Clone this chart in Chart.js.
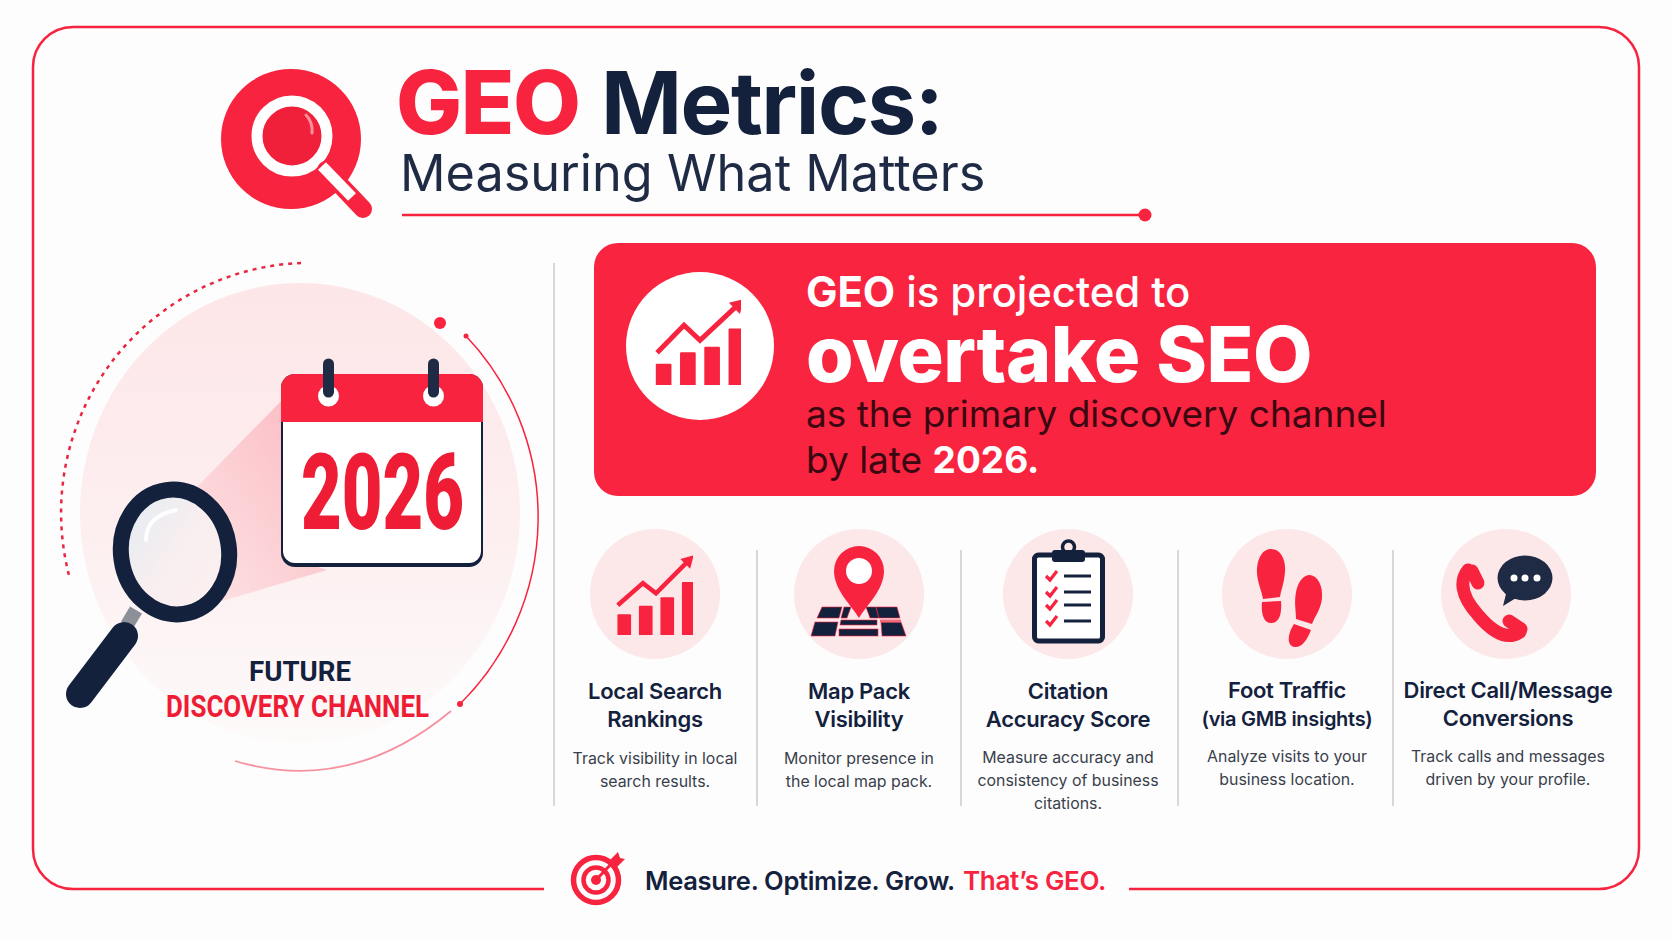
<!DOCTYPE html>
<html>
<head>
<meta charset="utf-8">
<title>GEO Metrics</title>
<script src="https://cdn.jsdelivr.net/npm/chart.js@4"></script>
<style>
	html, body { margin:0; padding:0; background:#fdfdfd; }
	#page { position:relative; width:1672px; height:941px; overflow:hidden; font-family:Inter, "Noto Sans", sans-serif; }
	#page svg { position:absolute; left:0; top:0; }
	#page canvas { position:absolute; }
</style>
</head>
<body>
<div id="page">
	<svg id="art" width="1672" height="941" viewBox="0 0 1672 941"></svg>
	<canvas id="heroTrend" width="97" height="95" style="left:644px;top:290px"></canvas>
	<canvas id="localTrend" width="86" height="85" style="left:607px;top:550px"></canvas>
</div>
<script>
// 아이콘 차트 데이터
const barCategories = ['Q1', 'Q2', 'Q3', 'Q4'];
const heroBars = [22, 34, 40, 59];
const heroTrendX = [0.54, 1.65, 2.31, 3.86];
const heroTrendY = [34, 63, 47, 84];
const localBars = [24, 34, 44, 62];
const localTrendX = [0.5, 1.67, 2.28, 3.77];
const localTrendY = [35, 61, 49, 87];

// 하단 항목 텍스트
const metricCenters = [655, 859, 1068, 1287, 1508];
const circleCenters = [655, 859, 1068, 1287, 1506];
const metricTitles = [
	['Local Search', 'Rankings'],
	['Map Pack', 'Visibility'],
	['Citation', 'Accuracy Score'],
	['Foot Traffic', '(via GMB insights)'],
	['Direct Call/Message', 'Conversions']
];
const metricNotes = [
	['Track visibility in local', 'search results.'],
	['Monitor presence in', 'the local map pack.'],
	['Measure accuracy and', 'consistency of business', 'citations.'],
	['Analyze visits to your', 'business location.'],
	['Track calls and messages', 'driven by your profile.']
];
const dividerXs = [757, 961, 1178, 1393];

const RED = '#f8233f';
const NAVY = '#14213d';

// ------------------- chart.js 아이콘 차트 --------------------------//
function trendChart( id, bars, trendX, trendY, barWidth, lineWidth, arrowSize ){
	return new Chart(document.getElementById(id), {
		data: {
			labels: barCategories,
			datasets: [
				{
					type: 'line',
					data: trendX.map((x, i) => ({ x: x, y: trendY[i] })),
					xAxisID: 'xTrend',
					borderColor: RED,
					backgroundColor: RED,
					borderWidth: lineWidth,
					tension: 0,
					clip: false,
					pointStyle: ['circle', 'circle', 'circle', 'triangle'],
					pointRadius: [0, 0, 0, arrowSize],
					pointRotation: 45,
					pointBorderWidth: 0
				},
				{
					type: 'bar',
					data: bars,
					backgroundColor: RED,
					barThickness: barWidth,
					borderRadius: 1
				}
			]
		},
		options: {
			responsive: false,
			animation: false,
			events: [],
			layout: { padding: 0, autoPadding: false },	// 점 크기만큼 안쪽으로 줄어드는 것 방지
			plugins: { legend: { display: false }, tooltip: { enabled: false } },
			scales: {
				x: { display: false },
				xTrend: { type: 'linear', display: false, min: 0, max: 4 },
				y: { display: false, min: 0, max: 100 }
			}
		}
	});
}
trendChart('heroTrend', heroBars, heroTrendX, heroTrendY, 15, 5, 9);
trendChart('localTrend', localBars, localTrendX, localTrendY, 13, 4.5, 8);

// ------------------- 배경 그림 (svg) --------------------------//
let html = `
<defs>
	<linearGradient id="paleDisc" x1="0" y1="0" x2="0" y2="1">
		<stop offset="0" stop-color="#fde6e8"/><stop offset="0.55" stop-color="#fdeff0"/><stop offset="1" stop-color="#fdfafa"/>
	</linearGradient>
	<linearGradient id="beam" x1="1" y1="0" x2="0" y2="1">
		<stop offset="0" stop-color="#fbb9c0"/><stop offset="1" stop-color="#fde3e5"/>
	</linearGradient>
	<linearGradient id="glass" x1="0" y1="0" x2="1" y2="1">
		<stop offset="0" stop-color="#dfecf4"/><stop offset="0.5" stop-color="#f8eeef"/><stop offset="1" stop-color="#fdf0f0"/>
	</linearGradient>
</defs>

<!-- 바깥 테두리 -->
<path d="M544 889 H73 A40 40 0 0 1 33 849 V67 A40 40 0 0 1 73 27 H1599 A40 40 0 0 1 1639 67 V849 A40 40 0 0 1 1599 889 H1129" fill="none" stroke="${RED}" stroke-width="2.5"/>

<!-- 로고 -->
<circle cx="291" cy="139" r="70" fill="${RED}"/>
<circle cx="292" cy="136" r="30" fill="#f1203a"/>
<circle cx="292" cy="136" r="35" fill="none" stroke="#fff" stroke-width="11"/>
<path d="M306 115 Q313 122 312 133" fill="none" stroke="#fb8f9b" stroke-width="3" stroke-linecap="round"/>
<line x1="326" y1="170" x2="363" y2="209" stroke="${RED}" stroke-width="18" stroke-linecap="round"/>
<line x1="322" y1="166" x2="352" y2="197" stroke="#fff" stroke-width="11"/>

<!-- 제목 -->
<text x="396" y="134" font-size="88" font-weight="800" letter-spacing="-1.5" fill="${RED}">GEO</text>
<text x="601" y="134" font-size="87" font-weight="700" letter-spacing="-1.5" fill="${NAVY}">Metrics:</text>
<text x="400" y="191" font-size="50.4" font-weight="400" fill="#1f2a44">Measuring What Matters</text>
<line x1="402" y1="215" x2="1145" y2="215" stroke="${RED}" stroke-width="2.5"/>
<circle cx="1145" cy="215" r="6.5" fill="${RED}"/>

<!-- 왼쪽 일러스트 -->
<ellipse cx="300" cy="513" rx="220" ry="230" fill="url(#paleDisc)"/>
<path d="M301 263 A250 250 0 0 0 70 579" fill="none" stroke="#e8263f" stroke-width="2.5" stroke-dasharray="4 5"/>
<path d="M466 336 A263 263 0 0 1 460 704" fill="none" stroke="${RED}" stroke-width="1.5"/>
<path d="M235 761 Q350 795 451 711" fill="none" stroke="#f6929f" stroke-width="1.8"/>
<circle cx="440" cy="323" r="6" fill="${RED}"/>
<circle cx="466" cy="336" r="2.5" fill="${RED}"/>
<circle cx="460" cy="704" r="3" fill="${RED}"/>
<polygon points="198,486 281,401 281,555 327,570 222,601" fill="url(#beam)"/>

<!-- 달력 -->
<rect x="281" y="374" width="202" height="193" rx="14" fill="${NAVY}"/>
<rect x="283" y="376" width="198" height="187" rx="12" fill="#fff"/>
<path d="M281 422 V388 A14 14 0 0 1 295 374 H469 A14 14 0 0 1 483 388 V422 Z" fill="${RED}"/>
<circle cx="328.5" cy="396" r="10.5" fill="#fff"/>
<circle cx="433.5" cy="396" r="10.5" fill="#fff"/>
<line x1="328.5" y1="364" x2="328.5" y2="392" stroke="#1f2a44" stroke-width="11" stroke-linecap="round"/>
<line x1="433.5" y1="364" x2="433.5" y2="392" stroke="#1f2a44" stroke-width="11" stroke-linecap="round"/>
<text x="301" y="529" font-family="Roboto" font-size="105" font-weight="900" fill="#ee1c35" textLength="163" lengthAdjust="spacingAndGlyphs">2026</text>

<!-- 돋보기 -->
<line x1="136" y1="610" x2="127" y2="625" stroke="#8c9098" stroke-width="14"/>
<line x1="124" y1="636" x2="80" y2="694" stroke="${NAVY}" stroke-width="28" stroke-linecap="round"/>
<ellipse cx="175" cy="552" rx="54" ry="62.5" transform="rotate(-8 175 552)" fill="url(#glass)" stroke="${NAVY}" stroke-width="16"/>
<path d="M146 540 Q146 516 176 510" fill="none" stroke="#fff" stroke-width="4" stroke-linecap="round" opacity="0.9"/>

<text x="249" y="681" font-family="Roboto" font-size="28" font-weight="700" fill="${NAVY}" textLength="102" lengthAdjust="spacingAndGlyphs">FUTURE</text>
<text x="166" y="717" font-family="Roboto" font-size="32" font-weight="700" fill="#ee1c35" textLength="263" lengthAdjust="spacingAndGlyphs">DISCOVERY CHANNEL</text>
<line x1="554" y1="263" x2="554" y2="806" stroke="#d8d8db" stroke-width="2"/>

<!-- 배너 -->
<rect x="594" y="243" width="1002" height="253" rx="24" fill="#f9243f"/>
<circle cx="700" cy="346" r="74" fill="#fff"/>
<text x="806" y="307" font-size="42" font-weight="500" letter-spacing="-0.1" fill="#fff"><tspan font-weight="700">GEO</tspan> is projected to</text>
<text x="806" y="382" font-size="77" font-weight="800" letter-spacing="-0.5" fill="#fff">overtake SEO</text>
<text x="806" y="427" font-size="37" font-weight="400" fill="#3b0711">as the primary discovery channel</text>
<text x="806" y="473" font-size="37" font-weight="400" fill="#3b0711">by late <tspan font-weight="700" fill="#fff">2026.</tspan></text>
`;

// 항목 원, 구분선
circleCenters.forEach( cx => {
	html += `<circle cx="${cx}" cy="594" r="65" fill="#fce7e9"/>`;
});
dividerXs.forEach( x => {
	html += `<line x1="${x}" y1="550" x2="${x}" y2="806" stroke="#d8d8db" stroke-width="2"/>`;
});

// 항목 텍스트
metricTitles.forEach( (title, i) => {
	let shift = i >= 3 ? -1 : 0;
	title.forEach( (t, j) => {
		let size = t.startsWith('(via') ? 20 : 22;	// 괄호 줄만 작게
		html += `<text x="${metricCenters[i]}" y="${699 + shift + j*28}" text-anchor="middle" font-size="${size}" font-weight="600" letter-spacing="-0.3" fill="${NAVY}">${t}</text>`;
	});
	metricNotes[i].forEach( (t, j) => {
		html += `<text x="${metricCenters[i]}" y="${(i == 2 ? 763 : 764) + (shift*2) + j*23}" text-anchor="middle" font-size="15.9" font-weight="400" fill="#3a3f4c">${t}</text>`;
	});
});

html += `
<!-- 지도 핀 -->
<g fill="${NAVY}" stroke="${RED}" stroke-width="0.6">
	<polygon points="822,607 842,607 839,618 817,618"/>
	<polygon points="844,607 851,607 847,618 841,618"/>
	<polygon points="866,607 876,607 879,618 870,618"/>
	<polygon points="876,607 897,607 900,618 879,618"/>
	<polygon points="815,622 838,622 835,636 811,636"/>
	<polygon points="841,620 877,620 877,625 840,625"/>
	<polygon points="839,629 878,629 878,636 839,636"/>
	<polygon points="881,622 901,622 906,636 882,636"/>
</g>
<line x1="880" y1="621" x2="901" y2="621" stroke="#f56a78" stroke-width="3"/>
<path d="M859 618 C852 606 834 590 834 571 A25 25 0 0 1 884 571 C884 590 866 606 859 618 Z" fill="${RED}"/>
<circle cx="859" cy="571" r="13" fill="#fff"/>

<!-- 체크리스트 -->
<rect x="1034.5" y="555" width="68" height="86" rx="4" fill="#fff" stroke="${NAVY}" stroke-width="5"/>
<circle cx="1068.5" cy="547" r="6" fill="none" stroke="${NAVY}" stroke-width="3.5"/>
<rect x="1052" y="550" width="33" height="12" rx="3" fill="${NAVY}"/>
`;
[576, 592, 605, 621].forEach( y => {
	html += `<path d="M1046 ${y} L1050 ${y+4} L1057 ${y-5}" fill="none" stroke="${RED}" stroke-width="3.2"/>
	<line x1="1064" y1="${y}" x2="1091" y2="${y}" stroke="${NAVY}" stroke-width="3"/>`;
});
html += `
<!-- 발자국 -->
<g fill="${RED}">
	<path d="M1271 549 C1281 549 1286 560 1285 572 C1284 584 1281 590 1280 597 L1263 599 C1262 591 1256 580 1257 568 C1258 557 1263 549 1271 549 Z"/>
	<path d="M1262 602 L1281 601 C1282 612 1280 623 1271 623 C1263 623 1261 612 1262 602 Z"/>
	<path d="M1310 575 C1318 576 1323 586 1322 598 C1321 609 1315 616 1312 624 L1296 619 C1296 610 1294 603 1296 592 C1298 582 1303 575 1310 575 Z"/>
	<path d="M1294 624 L1311 630 C1307 640 1302 648 1294 647 C1286 645 1288 633 1294 624 Z"/>
</g>

<!-- 전화 + 말풍선 -->
<path d="M1468 570 C1460 580 1460 595 1478 615 C1494 634 1508 640 1520 632" fill="none" stroke="${RED}" stroke-width="13" stroke-linecap="round"/>
<line x1="1472" y1="571" x2="1478" y2="583" stroke="${RED}" stroke-width="13" stroke-linecap="round"/>
<line x1="1509" y1="621" x2="1521" y2="629" stroke="${RED}" stroke-width="13" stroke-linecap="round"/>
<ellipse cx="1525" cy="578" rx="27.5" ry="22.5" fill="#1f2a44"/>
<polygon points="1507,590 1516,598 1503,606" fill="#1f2a44"/>
<circle cx="1514" cy="578" r="3.5" fill="#fff"/>
<circle cx="1525" cy="578" r="3.5" fill="#fff"/>
<circle cx="1537" cy="578" r="3.5" fill="#fff"/>

<!-- 하단 문구 -->
<circle cx="596" cy="880" r="22.5" fill="none" stroke="${RED}" stroke-width="5.5"/>
<circle cx="596" cy="880" r="12.5" fill="none" stroke="${RED}" stroke-width="4.5"/>
<circle cx="596" cy="880" r="5" fill="${RED}"/>
<line x1="596" y1="880" x2="614" y2="861" stroke="${RED}" stroke-width="3"/>
<polygon points="610,860 618,852 620,858 625,859 616,868 610,866" fill="${RED}"/>
<text x="645" y="890" font-size="25.5" font-weight="600" letter-spacing="-0.3" fill="${NAVY}">Measure. Optimize. Grow.</text>
<text x="963" y="890" font-size="26" font-weight="600" letter-spacing="-0.3" fill="${RED}">That’s GEO.</text>
`;
document.getElementById('art').innerHTML = html;
</script>
</body>
</html>
